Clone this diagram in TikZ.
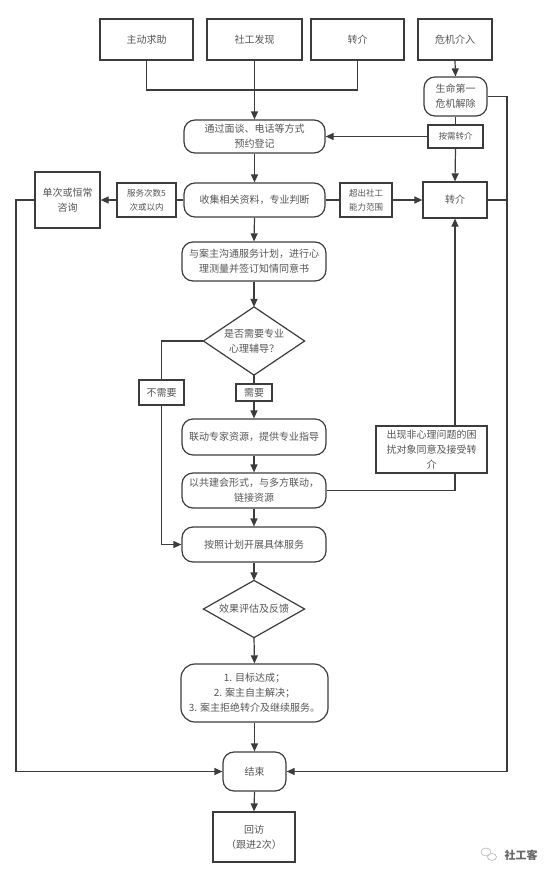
\documentclass[tikz,border=0pt]{standalone}
\usepackage{fontspec}
\setmainfont{Noto Sans CJK SC}
\usetikzlibrary{arrows.meta,shapes.geometric}
\definecolor{ln}{HTML}{3C3C3C}
\definecolor{tx}{HTML}{555555}
\tikzset{
  base/.style={draw=ln, line width=1.2pt, text=tx, align=center, inner sep=0pt,
    font=\fontsize{10}{15}\selectfont},
  box/.style={base},
  rbox/.style={base, rounded corners=11pt},
  small/.style={base, font=\fontsize{8.5}{14}\selectfont},
  dia/.style={base, draw=none},
  con/.style={draw=ln, line width=1.2pt},
  arr/.style={con, -{Triangle[width=7pt,length=8pt]}},
}
\begin{document}
\begin{tikzpicture}[x=1pt,y=-1pt]
\useasboundingbox (0,0) rectangle (553,881);
% top sources
\node[box, minimum width=93pt, minimum height=41pt] (s1) at (146.5,39.5) {主动求助};
\node[box, minimum width=95pt, minimum height=41pt] (s2) at (254.5,39.5) {社工发现};
\node[box, minimum width=93pt, minimum height=41pt] (s3) at (357.5,39.5) {转介};
\node[box, minimum width=74pt, minimum height=41pt] (s4) at (455,39.5) {危机介入};
% crisis column
\node[rbox, minimum width=63pt, minimum height=39pt] (crisis) at (455.5,96.5) {生命第一\\危机解除};
\node[small, minimum width=55pt, minimum height=23pt] (need) at (455.5,136.5) {按需转介};
\node[box, minimum width=64pt, minimum height=36pt] (refer) at (455,200) {转介};
% main column
\node[rbox, minimum width=141pt, minimum height=33pt] (reg) at (254.5,136.5) {通过面谈、电话等方式\\预约登记};
\node[rbox, minimum width=141pt, minimum height=34pt] (collect) at (254.5,200) {收集相关资料，专业判断};
\node[small, minimum width=52pt, minimum height=34pt] (over) at (366,200) {超出社工\\能力范围};
\node[small, minimum width=59pt, minimum height=34pt] (five) at (146.5,200) {服务次数5\\次或以内};
\node[box, minimum width=65pt, minimum height=56pt] (single) at (67.5,200) {单次或恒常\\咨询};
\node[rbox, minimum width=144pt, minimum height=39pt] (plan) at (254,261.5) {与案主沟通服务计划，进行心\\理测量并签订知情同意书};
\node[dia, minimum width=100pt, minimum height=67pt] (dec) at (254,341) {是否需要专业\\心理辅导？};
\draw[con] (dec.north) -- (dec.east) -- (dec.south) -- (dec.west) -- cycle;
\node[box, minimum width=45pt, minimum height=25pt] (noneed) at (161.5,392.5) {不需要};
\node[box, minimum width=36pt, minimum height=17pt] (needy) at (254,392.5) {需要};
\node[rbox, minimum width=144pt, minimum height=36pt] (expert) at (254,437) {联动专家资源，提供专业指导};
\node[rbox, minimum width=144pt, minimum height=35pt] (cobuild) at (254,490.5) {以共建会形式，与多方联动，\\链接资源};
\node[box, minimum width=111pt, minimum height=47pt] (nonpsy) at (431.5,449.5) {出现非心理问题的困\\扰对象同意及接受转\\介};
\node[rbox, minimum width=144pt, minimum height=35pt] (serve) at (254,544.5) {按照计划开展具体服务};
\node[dia, minimum width=100pt, minimum height=56pt] (eval) at (254,609) {效果评估及反馈};
\draw[con] (eval.north) -- (eval.east) -- (eval.south) -- (eval.west) -- cycle;
\node[rbox, rounded corners=14pt, minimum width=147pt, minimum height=58pt] (result) at (254.5,693) {1. 目标达成；\\2. 案主自主解决；\\3. 案主拒绝转介及继续服务。};
\node[rbox, minimum width=63pt, minimum height=39pt] (fin) at (254.5,771.5) {结束};
\node[box, minimum width=82pt, minimum height=50pt] (visit) at (254,837) {回访\\（跟进2次）};
% coordinates
\coordinate (j1) at (146.5,90);
\coordinate (j3) at (357.5,90);
\coordinate (r1) at (507,96.5);
\coordinate (r2) at (507,771.5);
\coordinate (r3) at (507,200);
\coordinate (l1) at (16,200);
\coordinate (l2) at (16,771.5);
\coordinate (n1) at (161.5,341);
\coordinate (n2) at (161.5,544.5);
\coordinate (c1) at (455,490.5);
\coordinate (c2) at (455,473);
\coordinate (c3) at (455,426);
% connectors
\draw[con] (s1.south) -- (j1) -- (j3) -- (s3.south);
\draw[arr] (s2.south) -- (reg.north);
\draw[arr] (s4.south) -- (crisis.north);
\draw[con] (crisis.south) -- (need.north);
\draw[arr] (need.south) -- (refer.north);
\draw[arr] (need.west) -- (reg.east);
\draw[arr] (crisis.east) -- (r1) -- (r2) -- (fin.east);
\draw[con] (refer.east) -- (r3);
\draw[arr] (reg.south) -- (collect.north);
\draw[con] (collect.east) -- (over.west);
\draw[arr] (over.east) -- (refer.west);
\draw[con] (collect.west) -- (five.east);
\draw[arr] (five.west) -- (single.east);
\draw[arr] (single.west) -- (l1) -- (l2) -- (fin.west);
\draw[arr] (collect.south) -- (plan.north);
\draw[arr] (plan.south) -- (dec.north);
\draw[con] (dec.west) -- (n1) -- (noneed.north);
\draw[arr] (noneed.south) -- (n2) -- (serve.west);
\draw[con] (dec.south) -- (needy.north);
\draw[arr] (needy.south) -- (expert.north);
\draw[arr] (expert.south) -- (cobuild.north);
\draw[con] (cobuild.east) -- (c1) -- (c2);
\draw[arr] (c3) -- (refer.south);
\draw[arr] (cobuild.south) -- (serve.north);
\draw[arr] (serve.south) -- (eval.north);
\draw[arr] (eval.south) -- (result.north);
\draw[arr] (result.south) -- (fin.north);
\draw[arr] (fin.south) -- (visit.north);
% watermark
\node[draw=gray!60, line width=0.6pt, ellipse, minimum width=10pt, minimum height=8pt, inner sep=0pt] (wm1) at (486,852) {};
\node[draw=gray!60, line width=0.6pt, ellipse, minimum width=9pt, minimum height=7pt, inner sep=0pt, fill=white] (wm2) at (492,857) {};
\node[text=gray!80!black, font=\fontsize{11}{11}\selectfont\bfseries, inner sep=0pt] (wm) at (521,855) {社工客};
\end{tikzpicture}
\end{document}
